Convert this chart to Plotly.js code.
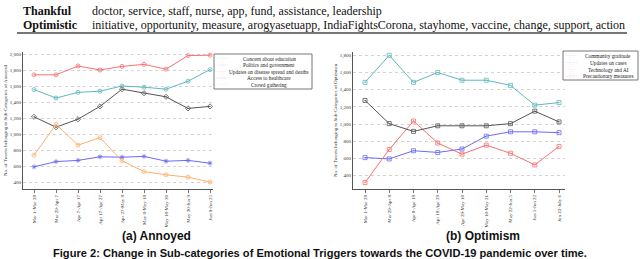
<!DOCTYPE html>
<html><head><meta charset="utf-8">
<script src="https://cdn.plot.ly/plotly-3.0.1.min.js"></script>
<style>html,body{margin:0;padding:0;background:#fff;}#chart{width:640px;height:259px;}</style>
</head><body><div id="chart"></div>
<script>
// ---- data ----
const periodsA = ["Mar 1-Mar 28","Mar 29-Apr 7","Apr 7-Apr 17","Apr 17-Apr 27","Apr 27-May 8","May 8-May 18","May 18-May 30","May 30-Jun 9","Jun 9-Jun 25"];
const periodsB = ["Mar 1-Mar 28","Mar 29-Apr 8","Apr 8-Apr 18","Apr 18-Apr 29","Apr 29-May 10","May 10-May 21","May 22-Jun 5","Jun 5-Jun 22","Jun 22-July 6"];
const namesA = ["Concern about education","Politics and government","Updates on disease spread and deaths","Access to healthcare","Crowd gathering"];
const educationA = [1555,1450,1520,1535,1600,1585,1560,1660,1805];
const politicsA  = [590,655,670,715,710,720,660,670,635];
const updatesA   = [1740,1740,1850,1800,1845,1870,1810,1980,1985];
const healthcareA= [1215,1085,1185,1345,1560,1510,1465,1320,1345];
const crowdA     = [735,1120,860,955,665,530,490,460,400];
const namesB = ["Community gratitude","Updates on cases","Technology and AI","Precautionary measures"];
const gratitudeB  = [1485,1800,1485,1600,1510,1510,1450,1220,1250];
const casesB      = [610,595,690,670,710,860,910,910,900];
const techB       = [320,705,1035,780,650,755,660,525,740];
const precautionB = [1275,1005,915,980,980,980,1005,1150,1025];
const tableLabels = ["Thankful","Optimistic"];
const tableWords = ["doctor, service, staff, nurse, app, fund, assistance, leadership",
  "initiative, opportunity, measure, arogyasetuapp, IndiaFightsCorona, stayhome, vaccine, change, support, action"];
const subCaptions = ["(a) Annoyed","(b) Optimism"];
const figCaption = "Figure 2: Change in Sub-categories of Emotional Triggers towards the COVID-19 pandemic over time.";

// ---- styling ----
const colA = ["#5fb7bf","#6b6bf7","#f47272","#555555","#ffb06b"];
const symA = ["circle-open-dot","asterisk-open","circle-open-dot","diamond-open-dot","circle-open-dot"];
const colB = ["#5fb7bf","#6b6bf7","#f47272","#555555"];
const symB = ["square-open-dot","square-open-dot","square-open-dot","square-open-dot"];
const seriesA = [educationA,politicsA,updatesA,healthcareA,crowdA];
const seriesB = [gratitudeB,casesB,techB,precautionB];
const serif = "Liberation Serif";
const idx = periodsA.map((_, i) => i);

const traces = [];
seriesA.forEach((s, k) => traces.push({x: idx, y: s, xaxis:'x', yaxis:'y', mode:'lines+markers', name: namesA[k],
  line:{color:colA[k], width:1}, marker:{symbol:symA[k], size:4, color:colA[k], line:{width:0.8, color:colA[k]}}, showlegend:false, cliponaxis:false}));
seriesB.forEach((s, k) => traces.push({x: idx, y: s, xaxis:'x2', yaxis:'y2', mode:'lines+markers', name: namesB[k],
  line:{color:colB[k], width:1}, marker:{symbol:symB[k], size:4, color:colB[k], line:{width:0.8, color:colB[k]}}, showlegend:false, cliponaxis:false}));

// manual legends on a pixel overlay axis (x3/y3)
const annotations = [];
const shapes = [];
function legend(names, cols, syms, box, rows, symX0, symX1, textX) {
  shapes.push({type:'rect', xref:'x3', yref:'y3', x0:box[0], x1:box[1], y0:box[2], y1:box[3], line:{color:'#777', width:1}, fillcolor:'rgba(255,255,255,0.9)'});
  names.forEach((n, k) => {
    const yy = rows[k];
    traces.push({x:[symX0,(symX0+symX1)/2,symX1], y:[yy,yy,yy], xaxis:'x3', yaxis:'y3', mode:'lines+markers', showlegend:false, hoverinfo:'skip', cliponaxis:false,
      line:{color:cols[k], width:1}, marker:{symbol:syms[k], size:[0,4,0], color:cols[k], line:{width:0.8,color:cols[k]}}});
    annotations.push({xref:'x3', yref:'y3', x:textX, y:yy, text:n, showarrow:false, xanchor:'center', yanchor:'middle', font:{family:serif, size:5.3, color:'#222'}});
  });
}
legend(namesA, colA, symA, [214,312,54,89], [58.5,65,71.5,78,84.5], 217, 228, 269);
legend(namesB, colB, symB, [563,638,51,80], [55.5,62.5,69.5,76], 566, 577, 608);

// table text
const rowY = [10.5, 25];
tableLabels.forEach((t, i) => {
  annotations.push({xref:'x3', yref:'y3', x:21, y:rowY[i], text:'<b>'+t+'</b>', showarrow:false, xanchor:'left', yanchor:'middle', font:{family:serif, size:12, color:'#111'}});
  annotations.push({xref:'x3', yref:'y3', x:90, y:rowY[i], text:tableWords[i], showarrow:false, xanchor:'left', yanchor:'middle', font:{family:serif, size:12, color:'#111'}});
});
shapes.push({type:'line', xref:'x3', yref:'y3', x0:17, x1:627, y0:33, y1:33, line:{color:'#777', width:2}});
annotations.push({xref:'x3', yref:'y3', x:156, y:236, text:'<b>'+subCaptions[0]+'</b>', showarrow:false, xanchor:'center', yanchor:'middle', font:{family:'Liberation Sans', size:12, color:'#111'}});
annotations.push({xref:'x3', yref:'y3', x:483, y:236, text:'<b>'+subCaptions[1]+'</b>', showarrow:false, xanchor:'center', yanchor:'middle', font:{family:'Liberation Sans', size:12, color:'#111'}});
annotations.push({xref:'x3', yref:'y3', x:320, y:253, text:'<b>'+figCaption+'</b>', showarrow:false, xanchor:'center', yanchor:'middle', font:{family:'Liberation Sans', size:11.1, color:'#111'}});

const yTop = 1 - 52/259, yBot = 1 - 189/259;
const baseX = {showgrid:false, zeroline:false, showline:true, linecolor:'#555', linewidth:1, ticks:'outside', ticklen:3, tickcolor:'#555', tickwidth:0.8,
  tickangle:-90, tickfont:{family:serif, size:5, color:'#333'}, tickmode:'array', tickvals:idx};
const baseY = {showgrid:true, gridcolor:'#c8c8c8', griddash:'dot', gridwidth:0.8, zeroline:false, showline:true, linecolor:'#555', linewidth:1,
  ticks:'', tickfont:{family:serif, size:5, color:'#333'}, tickformat:',d', tickmode:'array', domain:[yBot, yTop]};

const layout = {
  width:640, height:259, margin:{l:0,r:0,t:0,b:0}, paper_bgcolor:'#fff', plot_bgcolor:'rgba(0,0,0,0)', showlegend:false,
  xaxis: Object.assign({}, baseX, {domain:[23/640, 213/640], range:[-0.5, 8.136], ticktext:periodsA, anchor:'y'}),
  yaxis: Object.assign({}, baseY, {range:[312.5, 2025], tickvals:[400,600,800,1000,1200,1400,1600,1800,2000], anchor:'x',
    title:{text:'No. of Tweets belonging to Sub-Categories of Annoyed', font:{family:serif, size:5, color:'#333'}, standoff:2}}),
  xaxis2: Object.assign({}, baseX, {domain:[353/640, 565/640], range:[-0.495, 8.247], ticktext:periodsB, anchor:'y2'}),
  yaxis2: Object.assign({}, baseY, {range:[245, 1838], tickvals:[400,600,800,1000,1200,1400,1600,1800], anchor:'x2',
    title:{text:'No. of Tweets belonging to Sub-Categories of Optimism', font:{family:serif, size:5, color:'#333'}, standoff:2}}),
  xaxis3: {domain:[0,1], range:[0,640], visible:false, fixedrange:true, anchor:'y3'},
  yaxis3: {domain:[0,1], range:[259,0], visible:false, fixedrange:true, anchor:'x3'},
  annotations: annotations, shapes: shapes
};
Plotly.newPlot('chart', traces, layout, {staticPlot:true, displayModeBar:false});
</script></body></html>
